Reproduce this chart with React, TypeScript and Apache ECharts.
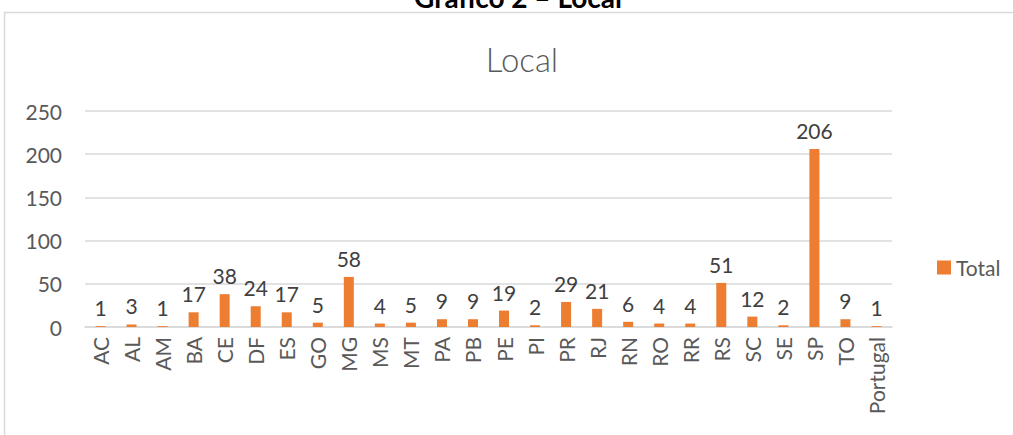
import React, { useEffect, useRef } from "react";
import * as echarts from "echarts";

const categories = ["AC","AL","AM","BA","CE","DF","ES","GO","MG","MS","MT","PA","PB","PE","PI","PR","RJ","RN","RO","RR","RS","SC","SE","SP","TO","Portugal"];
const totals = [1,3,1,17,38,24,17,5,58,4,5,9,9,19,2,29,21,6,4,4,51,12,2,206,9,1];
const yTicks = { min: 0, max: 250, interval: 50 };

const FONT = "Lato, 'Open Sans', sans-serif";

export default function App() {
  const ref = useRef<HTMLDivElement>(null);
  useEffect(() => {
    const chart = echarts.init(ref.current!, null, { renderer: "svg" });
    chart.setOption({
      animation: false,
      backgroundColor: "#ffffff",
      textStyle: { fontFamily: FONT },
      title: {
        text: "Local",
        left: 517,
        textAlign: "center",
        top: 37,
        textStyle: { fontFamily: FONT, fontSize: 33, fontWeight: 300, color: "#595959" },
      },
      graphic: [
        { type: "rect", shape: { x: 4.5, y: 12.5, width: 1200, height: 600 }, style: { fill: "none", stroke: "#d9d9d9", lineWidth: 1.5 }, silent: true },
        { type: "text", x: 518, y: -3, style: { text: "Gráfico 2 – Local", fontFamily: FONT, fontSize: 28, fontWeight: "bold", fill: "#000000", textAlign: "center", textVerticalAlign: "middle" } },
      ],
      legend: {
        data: ["Total"],
        left: 932,
        top: 252,
        itemWidth: 14,
        itemHeight: 14,
        itemGap: 6,
        icon: "rect",
        textStyle: { fontFamily: FONT, fontSize: 21, color: "#595959" },
      },
      grid: { left: 85, right: 121, top: 111, bottom: 108, containLabel: false },
      xAxis: {
        type: "category",
        data: categories,
        axisLine: { lineStyle: { color: "#d9d9d9", width: 1.5 } },
        axisTick: { show: false },
        axisLabel: { rotate: 90, color: "#595959", fontSize: 21, fontFamily: FONT, margin: 10, interval: 0 },
      },
      yAxis: {
        type: "value",
        min: yTicks.min,
        max: yTicks.max,
        interval: yTicks.interval,
        axisLine: { show: false },
        axisTick: { show: false },
        splitLine: { lineStyle: { color: "#d9d9d9", width: 1.5 } },
        axisLabel: { color: "#595959", fontSize: 21, fontFamily: FONT, margin: 23 },
      },
      series: [
        {
          name: "Total",
          type: "bar",
          data: totals,
          barWidth: 10,
          itemStyle: { color: "#ED7D31" },
          label: { show: true, position: "top", distance: 8, color: "#404040", fontSize: 21, fontFamily: FONT },
        },
      ],
    });
    return () => chart.dispose();
  }, []);
  return <div ref={ref} style={{ width: 1013, height: 435, position: "absolute", left: 0, top: 0 }} />;
}
